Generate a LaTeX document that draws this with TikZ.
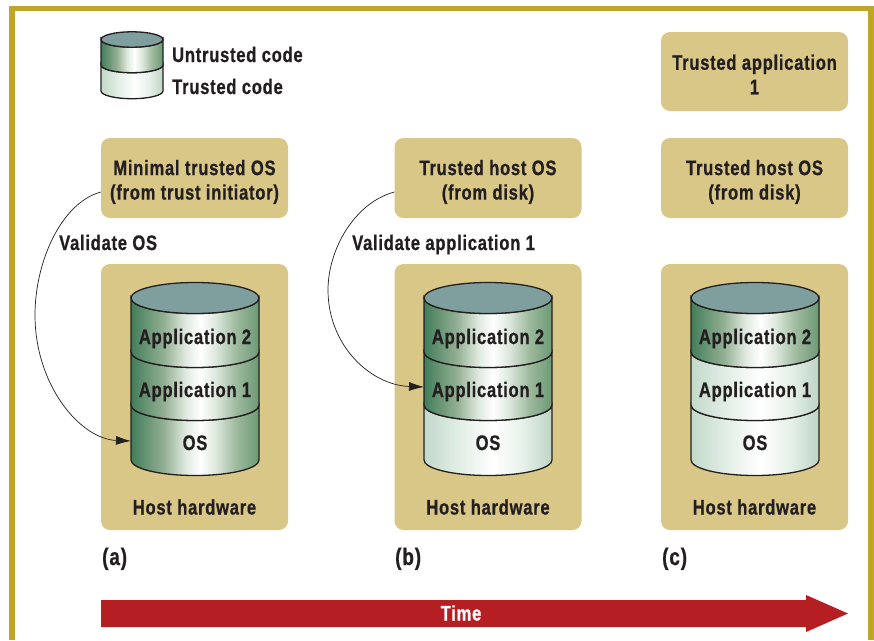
\documentclass[tikz,border=0pt]{standalone}
\usepackage{fontspec}
\setmainfont{Liberation Sans}[BoldFeatures={FakeStretch=0.79,LetterSpace=3.5,FakeBold=0.7}]
\usetikzlibrary{arrows.meta}
\definecolor{gold}{HTML}{BFA626}
\definecolor{sand}{HTML}{D9C787}
\definecolor{ink}{HTML}{231F20}
\definecolor{lidc}{HTML}{7F9F9F}
\definecolor{timec}{HTML}{B51F24}
\pgfdeclarehorizontalshading{dk}{100bp}{rgb(0bp)=(.26,.49,.35);rgb(25bp)=(.26,.49,.35);rgb(38bp)=(.58,.69,.58);rgb(46bp)=(.87,.91,.87);rgb(52bp)=(1,1,1);rgb(58bp)=(.87,.91,.87);rgb(66bp)=(.62,.73,.62);rgb(75bp)=(.42,.60,.46);rgb(100bp)=(.42,.60,.46)}
\pgfdeclarehorizontalshading{lt}{100bp}{rgb(0bp)=(.76,.85,.79);rgb(25bp)=(.76,.85,.79);rgb(38bp)=(.88,.93,.89);rgb(52bp)=(1,1,1);rgb(64bp)=(.90,.94,.91);rgb(75bp)=(.74,.83,.77);rgb(100bp)=(.74,.83,.77)}
\newcommand{\pad}[1]{\rule{0pt}{#1pt}}
\tikzset{
  panel/.style={fill=sand,rounded corners=9pt,minimum width=187pt,align=center,inner sep=0pt,font=\fontsize{21}{24.5}\selectfont\bfseries,text=ink},
  lab/.style={font=\fontsize{21}{24.5}\selectfont\bfseries,text=ink,inner sep=0pt,align=center,anchor=base},
  caplab/.style={lab,anchor=base west,font=\fontsize{24}{26}\selectfont\bfseries},
  cylline/.style={draw=ink,line width=1.3pt},
  conn/.style={draw=ink,line width=.7pt,-{Latex[length=15pt,width=9pt]}},
}
\newcommand{\band}[6]{\path[cylline,shading=#6] ({#1-#4},#2) -- ({#1-#4},#3) arc[start angle=180,end angle=360,x radius=#4,y radius=-#5] -- ({#1+#4},#2) arc[start angle=0,end angle=-180,x radius=#4,y radius=-#5] -- cycle;}
\newcommand{\lid}[4]{\path[cylline,fill=lidc] (#1,#2) ellipse[x radius=#3,y radius=#4];}
\newcommand{\bigcyl}[5]{%
  \band{#1}{405}{460}{64}{15.5}{#4}
  \band{#1}{352}{405}{64}{15.5}{#3}
  \band{#1}{298}{352}{64}{15.5}{#2}
  \lid{#1}{298}{64}{15.5}
  \node[lab] (#5-app2) at (#1,344) {Application 2};
  \node[lab] (#5-app1) at (#1,397) {Application 1};
  \node[lab] (#5-os) at (#1,450) {OS};
}
\begin{document}
\begin{tikzpicture}[x=1pt,y=-1pt]
\useasboundingbox (0,0) rectangle (874,640);
\fill[white] (0,0) rectangle (874,640);
% frame
\fill[gold] (9,6) rectangle (874,11);
\fill[gold] (9,6) rectangle (14.5,640);
\fill[gold] (868,6) rectangle (874,640);
% legend
\band{132}{65}{91}{31}{7.7}{lt}
\band{132}{39.5}{65}{31}{7.7}{dk}
\lid{132}{39.5}{31}{7.7}
\node[lab,anchor=base west] (untr) at (172,62) {Untrusted code};
\node[lab,anchor=base west] (tr) at (172,94) {Trusted code};
% upper panels
\node[panel,minimum height=80pt] (mina) at (194.5,178) {\pad{23}Minimal trusted OS\\(from trust initiator)};
\node[panel,minimum height=80pt] (hostb) at (488,178) {\pad{23}Trusted host OS\\(from disk)};
\node[panel,minimum height=80pt] (hostc) at (754.5,178) {\pad{23}Trusted host OS\\(from disk)};
\node[panel,minimum height=79pt] (appc) at (754.5,71.5) {\pad{21}Trusted application\\1};
% host panels
\node[panel,minimum height=266pt] (hwa) at (194.5,397) {};
\node[panel,minimum height=266pt] (hwb) at (488,397) {};
\node[panel,minimum height=266pt] (hwc) at (754.5,397) {};
\bigcyl{195}{dk}{dk}{dk}{a}
\bigcyl{488}{dk}{dk}{lt}{b}
\bigcyl{755}{dk}{lt}{lt}{c}
\node[lab] (hwla) at (194.5,514.5) {Host hardware};
\node[lab] (hwlb) at (488,514.5) {Host hardware};
\node[lab] (hwlc) at (754.5,514.5) {Host hardware};
% connectors
\coordinate (a-in) at (131,441);
\coordinate (b-in) at (424,387);
\draw[conn] ([yshift=-14pt]mina.west) .. controls (61,203) and (35,262) .. (35,315) .. controls (35,385) and (80,439) .. (a-in);
\draw[conn] ([yshift=-14pt]hostb.west) .. controls (354,203) and (328,250) .. (328,290) .. controls (328,345) and (370,385) .. (b-in);
\node[lab,anchor=base west] (vala) at (59,250) {Validate OS};
\node[lab,anchor=base west] (valb) at (352,250) {Validate application 1};
% captions
\node[caplab] (capa) at (102,565) {(a)};
\node[caplab] (capb) at (395,565) {(b)};
\node[caplab] (capc) at (662,565) {(c)};
% time arrow
\fill[timec] (101,600) -- (806,600) -- (806,595) -- (848,613.5) -- (806,632) -- (806,627) -- (101,627) -- cycle;
\node[lab,text=white] (time) at (461,620.5) {Time};
\end{tikzpicture}
\end{document}
